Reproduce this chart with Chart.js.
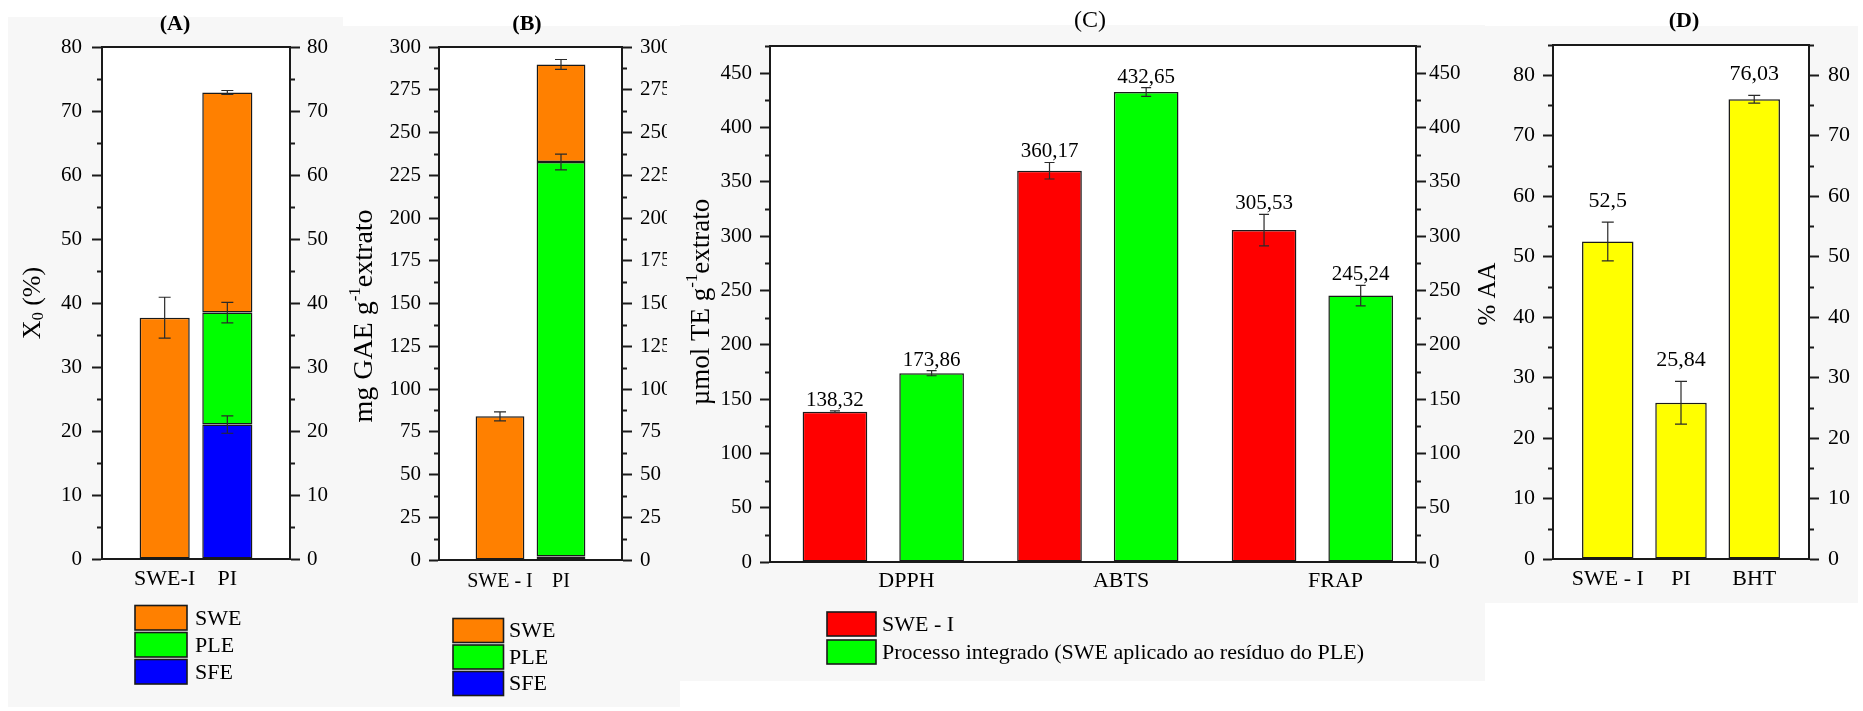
<!DOCTYPE html>
<html>
<head>
<meta charset="utf-8">
<script src="https://cdn.jsdelivr.net/npm/chart.js@4.4.1/dist/chart.umd.min.js"></script>
<style>
  html, body { margin: 0; padding: 0; background: #ffffff; }
  #page { position: relative; width: 1863px; height: 711px; overflow: hidden; background: #ffffff; }
  .sheet { position: absolute; background: #f7f7f7; }
  canvas { position: absolute; left: 0; top: 0; }
</style>
</head>
<body>
<div id="page">
  <div class="sheet" style="left:8px;top:17px;width:335px;height:690px"></div>
  <div class="sheet" style="left:343px;top:26px;width:337px;height:681px"></div>
  <div class="sheet" style="left:680px;top:25px;width:805px;height:656px"></div>
  <div class="sheet" style="left:1485px;top:26px;width:373px;height:577px"></div>
  <canvas id="chartYield" width="1863" height="711"></canvas>
  <canvas id="chartPhenolics" width="1863" height="711"></canvas>
  <canvas id="chartAssays" width="1863" height="711"></canvas>
  <canvas id="chartAA" width="1863" height="711"></canvas>
</div>
<script>
// ---- (A) global yield X0 (%) ----
const yieldCategories = ['SWE-I', 'PI'];
const yieldSFE = [null, 21.0];
const yieldPLE = [null, 17.5];
const yieldSWE = [37.7, 34.4];
const yieldErrSFE = [null, 1.35];
const yieldErrPLE = [null, 1.6];
const yieldErrSWE = [3.2, 0.3];

// ---- (B) total phenolics, mg GAE / g extract ----
const phenolCategories = ['SWE - I', 'PI'];
const phenolSFE = [null, 2.0];
const phenolPLE = [null, 230.8];
const phenolSWE = [84.0, 57.0];
const phenolErrSFE = [null, 0];
const phenolErrPLE = [null, 4.6];
const phenolErrSWE = [2.6, 2.9];

// ---- (C) antioxidant assays, µmol TE / g extract ----
const assayCategories = ['DPPH', 'ABTS', 'FRAP'];
const assaySWEI = [138.32, 360.17, 305.53];
const assayPI = [173.86, 432.65, 245.24];
const assayErrSWEI = [0.8, 7.6, 14.5];
const assayErrPI = [2.4, 4.0, 9.4];

// ---- (D) antioxidant activity, % AA ----
const aaCategories = ['SWE - I', 'PI', 'BHT'];
const aaValues = [52.5, 25.84, 76.03];
const aaErr = [3.2, 3.55, 0.65];

// ---- axis ranges: [max, major step, minor step] ----
const yieldAxis = [80, 10, 5];
const phenolAxis = [300, 25, 12.5];
const assayAxis = [475, 50, 25];
const aaAxis = [85, 10, 5];

const FONT = "'Liberation Serif', 'Times New Roman', serif";
const INK = '#1a1a1a';
const ORANGE = '#ff8000', GREEN = '#00ff00', BLUE = '#0000ff', RED = '#ff0000', YELLOW = '#ffff00';
const PAGE_W = 1863, PAGE_H = 711;

Chart.defaults.font.family = FONT;
Chart.defaults.color = '#000000';

const decimalComma = v => String(v).replace('.', ',');

function drawRich(ctx, parts, size, x, y) {
  // rotated axis title with optional sub/superscript runs
  ctx.save();
  ctx.translate(x, y);
  ctx.rotate(-Math.PI / 2);
  ctx.textBaseline = 'middle';
  ctx.textAlign = 'left';
  ctx.fillStyle = '#000';
  let total = 0;
  parts.forEach(([t, k]) => {
    ctx.font = `${k ? Math.round(size * 0.62) : size}px ${FONT}`;
    total += ctx.measureText(t).width;
  });
  let cx = -total / 2;
  parts.forEach(([t, k]) => {
    ctx.font = `${k ? Math.round(size * 0.62) : size}px ${FONT}`;
    const dy = k === 'sup' ? -size * 0.34 : (k === 'sub' ? size * 0.24 : 0);
    ctx.fillText(t, cx, dy);
    cx += ctx.measureText(t).width;
  });
  ctx.restore();
}

function makePanel(id, p) {
  const LEFT_W = 95, RIGHT_W = 45, XAXIS_H = 50;
  const a = p.area;
  const [yMax, yStep, yMinor] = p.axis;
  const majors = [];
  for (let v = 0; v <= yMax + 1e-9; v += yStep) majors.push(Math.round(v * 1000) / 1000);

  const yScale = (pos, pad) => ({
    type: 'linear',
    position: pos,
    min: 0,
    max: yMax,
    bounds: 'data',
    stacked: pos === 'left' ? !!p.stacked : false,
    afterBuildTicks: s => { s.ticks = majors.map(v => ({ value: v })); },
    afterFit: s => { s.width = pos === 'left' ? LEFT_W : RIGHT_W; },
    grid: { display: true, drawOnChartArea: false, drawTicks: true, tickLength: 10, tickWidth: 2, tickColor: INK },
    border: { display: true, width: 2, color: INK },
    ticks: { font: { size: p.tickSize }, color: '#000', padding: pad, callback: v => String(v) }
  });

  const datasets = p.series.map(s => ({
    label: s.label,
    data: s.values.map((v, i) => (v == null ? null : { x: i + 1, y: v, e: s.err[i] })).filter(Boolean),
    backgroundColor: s.color,
    borderColor: INK,
    borderWidth: 1.5,
    borderSkipped: false,
    categoryPercentage: p.catPct,
    barPercentage: p.barPct
  }));

  const decor = {
    id: 'decor_' + id,
    beforeDraw(chart) {
      const c = chart.ctx, ca = chart.chartArea;
      c.save();
      c.fillStyle = '#ffffff';
      c.fillRect(ca.left, ca.top, ca.right - ca.left, ca.bottom - ca.top);
      c.restore();
    },
    afterDatasetsDraw(chart) {
      const c = chart.ctx, ys = chart.scales.y;
      c.save();
      chart.data.datasets.forEach((ds, di) => {
        const meta = chart.getDatasetMeta(di);
        meta.data.forEach((bar, j) => {
          const raw = ds.data[j];
          if (!raw) return;
          const top = ys.getValueForPixel(bar.y);
          const e = raw.e || 0;
          const y1 = ys.getPixelForValue(top + e);
          const y2 = ys.getPixelForValue(top - e);
          if (e > 0) {
            const hw = p.capW / 2;
            c.strokeStyle = '#2a2a2a';
            c.lineWidth = 1.2;
            c.beginPath();
            c.moveTo(bar.x, y1); c.lineTo(bar.x, y2);
            c.moveTo(bar.x - hw, y1); c.lineTo(bar.x + hw, y1);
            c.moveTo(bar.x - hw, y2); c.lineTo(bar.x + hw, y2);
            c.stroke();
          }
          if (p.valueLabels) {
            c.fillStyle = '#000';
            c.font = `${p.valueLabels.size}px ${FONT}`;
            c.textAlign = 'center';
            c.textBaseline = 'alphabetic';
            c.fillText(decimalComma(raw.y), bar.x, y1 - p.valueLabels.gap);
          }
        });
      });
      c.restore();
    },
    afterDraw(chart) {
      const c = chart.ctx, ca = chart.chartArea, ys = chart.scales.y;
      c.save();
      // top frame line
      c.strokeStyle = INK;
      c.lineWidth = 2;
      c.beginPath();
      c.moveTo(ca.left - 1, ca.top); c.lineTo(ca.right + 1, ca.top);
      c.stroke();
      // minor ticks, outward on both vertical axes
      for (let v = yMinor; v <= yMax + 1e-9; v += yMinor) {
        if (majors.some(m => Math.abs(m - v) < 1e-6)) continue;
        const py = Math.round(ys.getPixelForValue(v)) + 0.5;
        c.beginPath();
        c.moveTo(ca.left - 5, py); c.lineTo(ca.left, py);
        c.moveTo(ca.right, py); c.lineTo(ca.right + 5, py);
        c.stroke();
      }
      // panel letter
      c.fillStyle = '#000';
      c.textAlign = 'center';
      c.textBaseline = 'middle';
      c.font = `${p.title.bold ? 'bold ' : ''}${p.title.size}px ${FONT}`;
      c.fillText(p.title.text, p.title.x, p.title.y);
      // y axis title
      drawRich(c, p.yTitle.parts, p.yTitle.size, p.yTitle.x, p.yTitle.y);
      // legend
      if (p.legend) {
        const L = p.legend;
        let items = chart.data.datasets.map(d => ({ label: d.label, color: d.backgroundColor }));
        if (L.reverse) items = items.reverse();
        items.forEach((it, k) => {
          const y0 = L.y + k * L.pitch;
          c.fillStyle = it.color;
          c.fillRect(L.x, y0, L.w, L.h);
          c.strokeStyle = INK;
          c.lineWidth = 1.6;
          c.strokeRect(L.x, y0, L.w, L.h);
          c.fillStyle = '#000';
          c.font = `${L.size}px ${FONT}`;
          c.textAlign = 'left';
          c.textBaseline = 'middle';
          c.fillText(it.label, L.textX, y0 + L.h / 2 + 1);
        });
      }
      c.restore();
    }
  };

  return new Chart(document.getElementById(id), {
    type: 'bar',
    data: { datasets },
    options: {
      responsive: false,
      animation: false,
      devicePixelRatio: 1,
      events: [],
      layout: {
        padding: {
          left: a.left - LEFT_W,
          right: PAGE_W - a.right - RIGHT_W,
          top: a.top,
          bottom: PAGE_H - a.bottom - XAXIS_H
        }
      },
      plugins: { legend: { display: false }, tooltip: { enabled: false }, title: { display: false } },
      scales: {
        x: {
          type: 'linear',
          min: p.xMin,
          max: p.xMax,
          bounds: 'data',
          offset: false,
          stacked: !!p.stacked,
          afterBuildTicks: s => { s.ticks = p.labels.map((_, i) => ({ value: i + 1 + (p.labelShift || 0) })); },
          afterFit: s => { s.height = XAXIS_H; },
          grid: { display: true, offset: false, drawOnChartArea: false, drawTicks: false },
          border: { display: true, width: 2, color: INK },
          ticks: {
            font: { size: p.xFontSize }, color: '#000', padding: p.xPad,
            maxRotation: 0, autoSkip: false,
            callback: (v, i) => p.labels[i]
          }
        },
        y: yScale('left', p.padL),
        y2: yScale('right', p.padR)
      }
    },
    plugins: [decor]
  });
}

makePanel('chartYield', {
  area: { left: 102, right: 290, top: 47, bottom: 559 },
  xMin: 0, xMax: 3, catPct: 1, barPct: 0.8, stacked: true,
  labels: yieldCategories, xFontSize: 22, xPad: 7,
  series: [
    { label: 'SFE', values: yieldSFE, err: yieldErrSFE, color: BLUE },
    { label: 'PLE', values: yieldPLE, err: yieldErrPLE, color: GREEN },
    { label: 'SWE', values: yieldSWE, err: yieldErrSWE, color: ORANGE }
  ],
  axis: yieldAxis, tickSize: 21, padL: 10, padR: 7, capW: 12,
  title: { text: '(A)', x: 175, y: 24, size: 22, bold: true },
  yTitle: { parts: [['X'], ['0', 'sub'], [' (%)']], x: 33, y: 303, size: 26 },
  legend: { x: 135, y: 605.5, w: 52, h: 24.5, pitch: 27, textX: 195, size: 22, reverse: true }
});

makePanel('chartPhenolics', {
  area: { left: 439, right: 622, top: 47, bottom: 560 },
  xMin: 0, xMax: 3, catPct: 1, barPct: 0.8, stacked: true,
  labels: phenolCategories, xFontSize: 20, xPad: 10,
  series: [
    { label: 'SFE', values: phenolSFE, err: phenolErrSFE, color: BLUE },
    { label: 'PLE', values: phenolPLE, err: phenolErrPLE, color: GREEN },
    { label: 'SWE', values: phenolSWE, err: phenolErrSWE, color: ORANGE }
  ],
  axis: phenolAxis, tickSize: 21, padL: 8, padR: 8, capW: 12,
  title: { text: '(B)', x: 527, y: 24, size: 22, bold: true },
  yTitle: { parts: [['mg GAE g'], ['-1', 'sup'], ['extrato']], x: 365, y: 316, size: 28 },
  legend: { x: 453, y: 618.5, w: 50.5, h: 24, pitch: 26.5, textX: 509, size: 22, reverse: true }
});

makePanel('chartAssays', {
  area: { left: 770, right: 1416, top: 46, bottom: 562 },
  xMin: 0.472, xMax: 3.483, catPct: 0.901, barPct: 0.669, stacked: false, labelShift: 0.108,
  labels: assayCategories, xFontSize: 22, xPad: 6,
  series: [
    { label: 'SWE - I', values: assaySWEI, err: assayErrSWEI, color: RED },
    { label: 'Processo integrado (SWE aplicado ao resíduo do PLE)', values: assayPI, err: assayErrPI, color: GREEN }
  ],
  axis: assayAxis, tickSize: 21, padL: 8, padR: 3, capW: 10,
  valueLabels: { gap: 5, size: 21 },
  title: { text: '(C)', x: 1090, y: 21, size: 24, bold: false },
  yTitle: { parts: [['µmol TE g'], ['-1', 'sup'], ['extrato']], x: 702, y: 302, size: 27 },
  legend: { x: 827, y: 612, w: 49, h: 24, pitch: 28, textX: 882, size: 22, reverse: false }
});

makePanel('chartAA', {
  area: { left: 1553, right: 1809, top: 45, bottom: 559 },
  xMin: 0.252, xMax: 3.748, catPct: 1, barPct: 0.703, stacked: false,
  labels: aaCategories, xFontSize: 22, xPad: 7,
  series: [
    { label: '% AA', values: aaValues, err: aaErr, color: YELLOW }
  ],
  axis: aaAxis, tickSize: 22, padL: 8, padR: 9, capW: 12,
  valueLabels: { gap: 15, size: 22 },
  title: { text: '(D)', x: 1684, y: 21.5, size: 22, bold: true },
  yTitle: { parts: [['% AA']], x: 1488, y: 294, size: 25 },
  legend: null
});
</script>
</body>
</html>
